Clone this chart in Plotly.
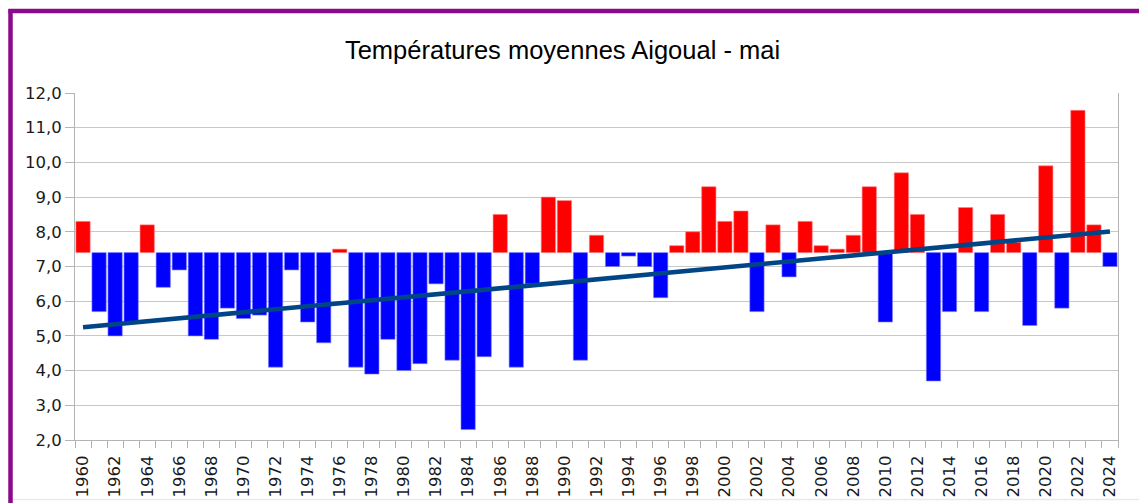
import numpy as np
import plotly.graph_objects as go

years = list(range(1960, 2025))
temps = [8.3, 5.7, 5.0, 5.4, 8.2, 6.4, 6.9, 5.0, 4.9, 5.8,
         5.5, 5.6, 4.1, 6.9, 5.4, 4.8, 7.5, 4.1, 3.9, 4.9,
         4.0, 4.2, 6.5, 4.3, 2.3, 4.4, 8.5, 4.1, 6.5, 9.0,
         8.9, 4.3, 7.9, 7.0, 7.3, 7.0, 6.1, 7.6, 8.0, 9.3,
         8.3, 8.6, 5.7, 8.2, 6.7, 8.3, 7.6, 7.5, 7.9, 9.3,
         5.4, 9.7, 8.5, 3.7, 5.7, 8.7, 5.7, 8.5, 7.7, 5.3,
         9.9, 5.8, 11.5, 8.2, 7.0]
reference = 7.4
tick_years = list(range(1960, 2025, 2))
tick_labels = [str(y) for y in tick_years]
y_ticks = list(range(2, 13))

colors = ["#ff0000" if t >= reference else "#0000ff" for t in temps]
edge = ["#ff8080" if t >= reference else "#8080ff" for t in temps]
deltas = [t - reference for t in temps]

coef = np.polyfit(years, temps, 1)
trend = [coef[0] * y + coef[1] for y in years]

fig = go.Figure()
fig.add_trace(go.Bar(
    x=years, y=deltas, base=reference,
    marker=dict(color=colors, line=dict(color=edge, width=0.6)),
    width=0.89, showlegend=False, hoverinfo="skip",
))
fig.add_trace(go.Scatter(
    x=years, y=trend, mode="lines",
    line=dict(color="#004586", width=4.6),
    showlegend=False, hoverinfo="skip",
))

# page body has an 8px margin: figure is offset by OFF px
OFF = 8
W, H = 1147 - OFF, 503 - OFF
L, T = 75 - OFF, 93 - OFF
R = W - (1118 - OFF)
B = H - (440 - OFF)
pw, ph = W - L - R, H - T - B

def px(x):  # absolute screen x -> paper
    return (x - OFF - L) / pw

def py(y):  # absolute screen y -> paper
    return (H - B - (y - OFF)) / ph

shapes = []
purple = "#8b0a8b"
shapes.append(dict(type="line", xref="paper", yref="paper",
                   x0=px(10.5), x1=px(10.5), y0=py(9), y1=py(520),
                   line=dict(color=purple, width=4.5)))
shapes.append(dict(type="line", xref="paper", yref="paper",
                   x0=px(8.5), x1=px(1170), y0=py(11), y1=py(11),
                   line=dict(color=purple, width=4.5)))
shapes.append(dict(type="line", xref="paper", yref="paper",
                   x0=px(13), x1=px(1170), y0=py(499.5), y1=py(499.5),
                   line=dict(color="#efe6ef", width=1.5)))

fig.update_layout(
    width=W, height=H,
    margin=dict(l=L, r=R, t=T, b=B, pad=0, autoexpand=False),
    paper_bgcolor="white", plot_bgcolor="white",
    separators=", ",
    bargap=0.11,
    title=dict(text="Températures moyennes Aigoual - mai",
               font=dict(family="Liberation Sans", size=25.5, color="#000000"),
               x=(562.5 - OFF) / W, xanchor="center", xref="container",
               y=1 - (50 - OFF) / H, yanchor="middle", yref="container"),
    shapes=shapes,
    font=dict(family="DejaVu Sans", size=16.5, color="#1a1a1a"),
)
fig.update_xaxes(
    range=[1959.5, 2024.5], tickmode="array", tickvals=tick_years,
    ticktext=tick_labels, tickangle=-90, automargin=False,
    ticks="outside", ticklen=8, tickcolor="rgba(0,0,0,0)",
    showgrid=False, showline=True, linecolor="#b3b3b3", linewidth=1,
    zeroline=False,
    minor=dict(tickmode="array", tickvals=[1959.5 + i for i in range(66)],
               ticks="outside", ticklen=7, tickcolor="#b3b3b3", tickwidth=1,
               showgrid=False),
    tickfont=dict(family="DejaVu Sans", size=16.5, color="#1a1a1a"),
)
fig.update_yaxes(
    range=[2, 12], tickmode="array", tickvals=y_ticks, tickformat=".1f",
    automargin=False,
    ticks="outside", ticklen=9, tickcolor="#b3b3b3",
    showgrid=True, gridcolor="#c8c8c8", gridwidth=1,
    showline=True, linecolor="#b3b3b3", linewidth=1, mirror=True,
    zeroline=False,
    tickfont=dict(family="DejaVu Sans", size=16.5, color="#1a1a1a"),
)

fig.write_html("out.html")
